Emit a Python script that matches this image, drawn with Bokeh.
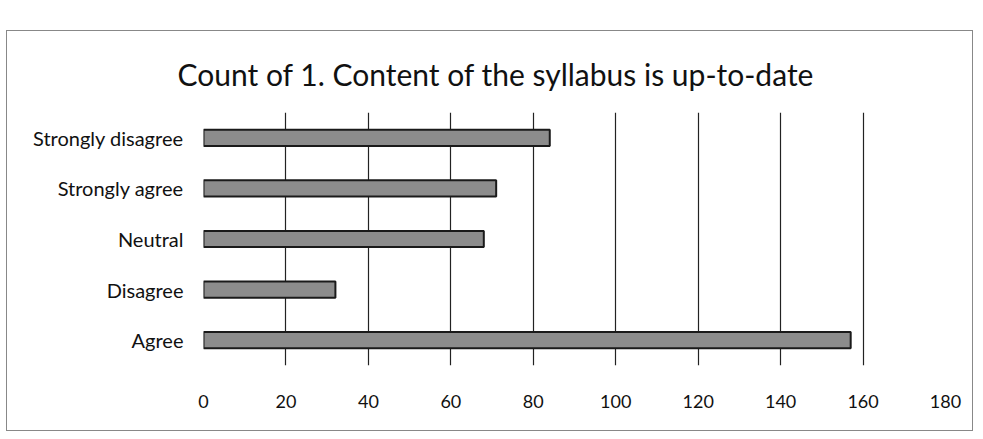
from bokeh.plotting import figure
from bokeh.models import Range1d, FixedTicker
from bokeh.embed import file_html
from bokeh.resources import INLINE

categories = ["Agree", "Disagree", "Neutral", "Strongly agree", "Strongly disagree"]
counts = [157, 32, 68, 71, 84]
x_ticks = [0, 20, 40, 60, 80, 100, 120, 140, 160, 180]

FONT = "Lato"

p = figure(y_range=categories, x_range=Range1d(0, 180), width=967, height=401,
           output_backend="svg", toolbar_location=None,
           title="Count of 1. Content of the syllabus is up-to-date",
           min_border_left=196, min_border_right=29, min_border_top=81, min_border_bottom=67)
p.margin = (30, 0, 0, 6)
p.styles = {"border": "1px solid #888888"}

p.hbar(y=categories, right=counts, left=0, height=0.32,
       fill_color="#8c8c8c", line_color="#1a1a1a", line_width=2)

p.title.text_font = FONT
p.title.text_font_size = "30px"
p.title.text_font_style = "normal"
p.title.text_color = "#111111"
p.title.align = "left"
p.title.offset = -26
p.title.standoff = 42

p.xaxis.ticker = FixedTicker(ticks=x_ticks)
p.xaxis.axis_line_color = None
p.xaxis.major_tick_line_color = None
p.xaxis.minor_tick_line_color = None
p.xaxis.major_label_text_font = FONT
p.xaxis.major_label_text_font_size = "18px"
p.xaxis.major_label_text_color = "#111111"
p.xaxis.major_label_standoff = 23

p.yaxis.axis_line_color = None
p.yaxis.major_tick_line_color = None
p.yaxis.major_label_text_font = FONT
p.yaxis.major_label_text_font_size = "20px"
p.yaxis.major_label_text_color = "#111111"
p.yaxis.major_label_standoff = 14

p.xgrid.grid_line_color = "#222222"
p.xgrid.grid_line_width = 1.2
p.ygrid.grid_line_color = None
p.outline_line_color = None

open("out.html", "w").write(file_html(p, INLINE))
